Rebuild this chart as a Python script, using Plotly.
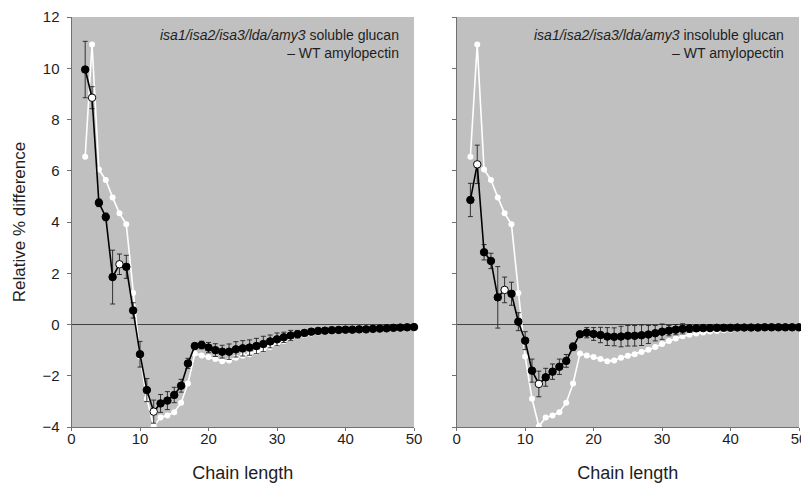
import plotly.graph_objects as go

chain_length = list(range(2, 51))

soluble_diff = [9.95, 8.85, 4.75, 4.2, 1.85, 2.35, 2.25, 0.55, -1.16, -2.56, -3.40, -3.08,
                -2.97, -2.75, -2.39, -1.52, -0.84, -0.80, -0.90, -1.0, -1.06, -1.06, -0.97,
                -0.93, -0.90, -0.84, -0.76, -0.66, -0.58, -0.50, -0.43, -0.38, -0.33, -0.28,
                -0.25, -0.24, -0.22, -0.21, -0.20, -0.20, -0.19, -0.19, -0.17, -0.16, -0.15,
                -0.13, -0.12, -0.11, -0.10]
soluble_err = [1.1, 0.43, 0.15, 0.15, 1.05, 0.4, 0.45, 0.3, 0.5, 0.45, 0.45, 0.35, 0.35,
               0.3, 0.25, 0.2, 0.1, 0.15, 0.2, 0.25, 0.25, 0.3, 0.3, 0.3, 0.3, 0.3, 0.3,
               0.25, 0.25, 0.2, 0.2, 0.15, 0.1, 0.1, 0.05, 0.05, 0.05, 0.05, 0.05, 0.05,
               0.05, 0.05, 0.05, 0.05, 0.05, 0.05, 0.05, 0.05, 0.05]

insoluble_diff = [4.86, 6.25, 2.82, 2.48, 1.06, 1.35, 1.2, 0.11, -0.63, -1.80, -2.32, -2.06,
                  -1.84, -1.65, -1.42, -0.87, -0.38, -0.32, -0.37, -0.41, -0.47, -0.48, -0.47,
                  -0.44, -0.44, -0.42, -0.39, -0.34, -0.28, -0.24, -0.20, -0.17, -0.16, -0.15,
                  -0.14, -0.14, -0.13, -0.13, -0.13, -0.12, -0.12, -0.12, -0.12, -0.11, -0.11,
                  -0.11, -0.11, -0.11, -0.11]
insoluble_err = [0.65, 0.75, 0.3, 0.3, 1.2, 0.5, 0.45, 0.35, 0.35, 0.45, 0.5, 0.35, 0.3,
                 0.3, 0.25, 0.15, 0.1, 0.2, 0.25, 0.3, 0.35, 0.35, 0.4, 0.4, 0.4, 0.4, 0.35,
                 0.3, 0.3, 0.2, 0.2, 0.2, 0.15, 0.1, 0.05, 0.05, 0.05, 0.05, 0.05, 0.05,
                 0.05, 0.05, 0.05, 0.05, 0.05, 0.05, 0.05, 0.05, 0.05]

reference_diff = [6.55, 10.93, 6.05, 5.64, 4.96, 4.34, 3.91, 1.23, -1.25, -2.9, -3.97, -3.63,
                  -3.55, -3.42, -3.05, -2.30, -1.13, -1.21, -1.27, -1.35, -1.43, -1.40, -1.30,
                  -1.22, -1.16, -1.07, -0.99, -0.88, -0.76, -0.64, -0.55, -0.46, -0.40, -0.35,
                  -0.31, -0.27, -0.25, -0.22, -0.20, -0.19, -0.18, -0.17, -0.16, -0.15, -0.14,
                  -0.13, -0.12, -0.11, -0.10]

open_points = [3, 7, 12]

panel_labels = ["<i>isa1/isa2/isa3/lda/amy3</i> soluble glucan<br>– WT amylopectin",
                "<i>isa1/isa2/isa3/lda/amy3</i> insoluble glucan<br>– WT amylopectin"]

FONT = "Liberation Sans, Arial, sans-serif"
TXT = "#1e1e1e"
BG = "#c0c0c0"

# page has an 8px body margin, so the figure is 801x475 starting at (8, 8)
W, H, OFF = 801, 475, 8

fig = go.Figure()

panels = [(soluble_diff, soluble_err, "x", "y"), (insoluble_diff, insoluble_err, "x2", "y2")]
for diff, err, xa, ya in panels:
    fig.add_trace(go.Scatter(
        x=chain_length, y=reference_diff, xaxis=xa, yaxis=ya, mode="lines+markers",
        line=dict(color="white", width=1.6),
        marker=dict(color="white", size=6, line=dict(width=0)),
        showlegend=False, cliponaxis=False))
    fills = ["white" if c in open_points else "black" for c in chain_length]
    fig.add_trace(go.Scatter(
        x=chain_length, y=diff, xaxis=xa, yaxis=ya, mode="lines+markers",
        line=dict(color="black", width=1.6),
        marker=dict(color=fills, size=7.5, line=dict(color="black", width=1)),
        error_y=dict(type="data", array=err, visible=True, color="#222222",
                     thickness=0.9, width=2.5),
        showlegend=False, cliponaxis=False))

y_dom = [(H - (427 - OFF)) / H, (H - (17 - OFF)) / H]
x_doms = [[(71.5 - OFF) / W, (414 - OFF) / W], [(456.7 - OFF) / W, (799 - OFF) / W]]
y_zero_paper = y_dom[0] + (0 - (-4)) / 16 * (y_dom[1] - y_dom[0])

common_x = dict(range=[0, 50], tickvals=list(range(0, 51, 10)), showgrid=False,
                zeroline=False, showline=True, linecolor="#707070", linewidth=1,
                ticks="outside", ticklen=3, tickcolor="#707070", automargin=False,
                ticklabelstandoff=-5,
                tickfont=dict(family=FONT, size=15, color=TXT),
                title=dict(text="Chain length", font=dict(family=FONT, size=18, color=TXT),
                           standoff=21))
common_y = dict(range=[-4, 12], domain=y_dom, tickvals=list(range(-4, 13, 2)), showgrid=False,
                zeroline=True, zerolinecolor="#404040", zerolinewidth=1, automargin=False,
                showline=True, linecolor="#707070", linewidth=1,
                ticks="outside", ticklen=4, tickcolor="#707070",
                tickfont=dict(family=FONT, size=15, color=TXT))

fig.update_layout(
    width=W, height=H, margin=dict(l=0, r=0, t=0, b=0, autoexpand=False),
    paper_bgcolor="white", plot_bgcolor=BG,
    xaxis=dict(domain=x_doms[0], anchor="y", **common_x),
    xaxis2=dict(domain=x_doms[1], anchor="y2", **common_x),
    yaxis=dict(anchor="x", ticklabelstandoff=4,
               title=dict(text="Relative % difference",
                          font=dict(family=FONT, size=17, color=TXT), standoff=12),
               **common_y),
    yaxis2=dict(anchor="x2", showticklabels=False, **common_y),
)

# minor tick marks every 5 on bottom axis, and crossing ticks on the zero line
tick_axes = {}
n = 3
for i, dom in enumerate(x_doms):
    base = "x" if i == 0 else "x2"
    for side, pos in [("bottom", y_dom[0]), ("top", y_dom[0]),
                      ("bottom", y_zero_paper), ("top", y_zero_paper)]:
        tick_axes[f"xaxis{n}"] = dict(
            overlaying=base, anchor="free", position=pos, side=side, domain=dom,
            range=[0, 50], tickvals=list(range(0, 51, 5)), showticklabels=False,
            showgrid=False, zeroline=False, showline=False, automargin=False,
            ticks="outside", ticklen=2.5,
            tickcolor="#505050" if pos == y_zero_paper else "#707070")
        n += 1
fig.update_layout(**tick_axes)

for i, label in enumerate(panel_labels):
    xref = "x domain" if i == 0 else "x2 domain"
    yref = "y domain" if i == 0 else "y2 domain"
    fig.add_annotation(text=label, xref=xref, yref=yref, x=0.962, y=0.98,
                       xanchor="right", yanchor="top", align="right", showarrow=False,
                       font=dict(family=FONT, size=14, color=TXT))

fig.write_html("out.html")
